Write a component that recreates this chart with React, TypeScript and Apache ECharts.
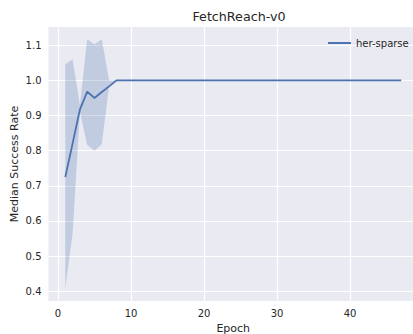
import React, { useEffect, useRef } from "react";
import * as echarts from "echarts";

const epochs = [1,2,3,4,5,6,7,8,9,10,11,12,13,14,15,16,17,18,19,20,21,22,23,24,25,26,27,28,29,30,31,32,33,34,35,36,37,38,39,40,41,42,43,44,45,46,47];
const median = [0.725,0.82,0.917,0.968,0.95,0.967,0.983,1,1,1,1,1,1,1,1,1,1,1,1,1,1,1,1,1,1,1,1,1,1,1,1,1,1,1,1,1,1,1,1,1,1,1,1,1,1,1,1];
const bandEpochs = [1,2,3,4,5,6,7,8];
const bandLower = [0.407,0.565,0.91,0.816,0.8,0.818,0.985,1];
const bandUpper = [1.046,1.06,0.93,1.117,1.103,1.117,1.0,1];
const xTicks = [0,10,20,30,40];
const yTicks = [0.4,0.5,0.6,0.7,0.8,0.9,1.0,1.1];
const seriesName = "her-sparse";
const title = "FetchReach-v0";

export default function App() {
  const ref = useRef<HTMLDivElement>(null);
  useEffect(() => {
    if (!ref.current) return;
    const chart = echarts.init(ref.current, null, { renderer: "svg" });
    const font = "DejaVu Sans";
    const textColor = "#262626";
    const bandData = bandEpochs.map((e, i) => [e, bandLower[i], bandUpper[i]]);
    chart.setOption({
      animation: false,
      backgroundColor: "#ffffff",
      title: {
        text: title,
        left: 234,
        textAlign: "center",
        top: 5,
        textStyle: { fontFamily: font, fontSize: 12.7, fontWeight: "normal", color: textColor },
      },
      legend: {
        data: [{ name: seriesName, icon: "rect" }],
        left: 323,
        top: 33,
        itemWidth: 23,
        itemHeight: 2,
        itemGap: 8,
        textStyle: { fontFamily: font, fontSize: 10, color: textColor },
      },
      grid: {
        left: 48.5,
        right: -5,
        top: 27,
        bottom: 33,
        containLabel: false,
        outerBoundsMode: "none",
        show: true,
        backgroundColor: "#EAEAF2",
        borderWidth: 0,
      },
      xAxis: {
        type: "value",
        min: -1.3,
        max: 49.3,
        name: "Epoch",
        nameLocation: "middle",
        nameGap: 19,
        nameTextStyle: { fontFamily: font, fontSize: 11, color: textColor },
        axisLine: { show: false },
        axisTick: { show: false, customValues: xTicks },
        axisLabel: { customValues: xTicks, fontFamily: font, fontSize: 10, color: textColor, margin: 7 },
        splitLine: { show: true, lineStyle: { color: "#ffffff", width: 1.2 } },
      },
      yAxis: {
        type: "value",
        min: 0.372,
        max: 1.152,
        name: "Median Success Rate",
        nameLocation: "middle",
        nameGap: 29,
        nameMoveOverlap: false,
        nameTextStyle: { fontFamily: font, fontSize: 11, color: textColor },
        axisLine: { show: false },
        axisTick: { show: false, customValues: yTicks },
        axisLabel: {
          customValues: yTicks,
          fontFamily: font,
          fontSize: 10,
          color: textColor,
          margin: 7,
          formatter: (v: number) => v.toFixed(1),
        },
        splitLine: { show: true, lineStyle: { color: "#ffffff", width: 1.2 } },
      },
      series: [
        {
          name: "band",
          type: "custom",
          silent: true,
          data: bandData,
          encode: { x: 0, y: [1, 2] },
          renderItem: (params: any, api: any) => {
            if (params.dataIndex !== 0) return null;
            const upper: number[][] = [];
            const lower: number[][] = [];
            for (let i = 0; i < bandData.length; i++) {
              upper.push(api.coord([bandData[i][0], bandData[i][2]]));
              lower.push(api.coord([bandData[i][0], bandData[i][1]]));
            }
            const pts = upper.concat(lower.reverse());
            return {
              type: "polygon",
              shape: { points: pts },
              style: { fill: "rgba(76,114,176,0.25)", stroke: "none" },
            };
          },
        },
        {
          name: seriesName,
          type: "line",
          symbol: "none",
          color: "#4C72B0",
          lineStyle: { color: "#4C72B0", width: 1.8 },
          data: epochs.map((e, i) => [e, median[i]]),
        },
      ],
    });
    return () => chart.dispose();
  }, []);
  return <div ref={ref} style={{ position: "fixed", left: 0, top: 0, width: 413, height: 334 }} />;
}
